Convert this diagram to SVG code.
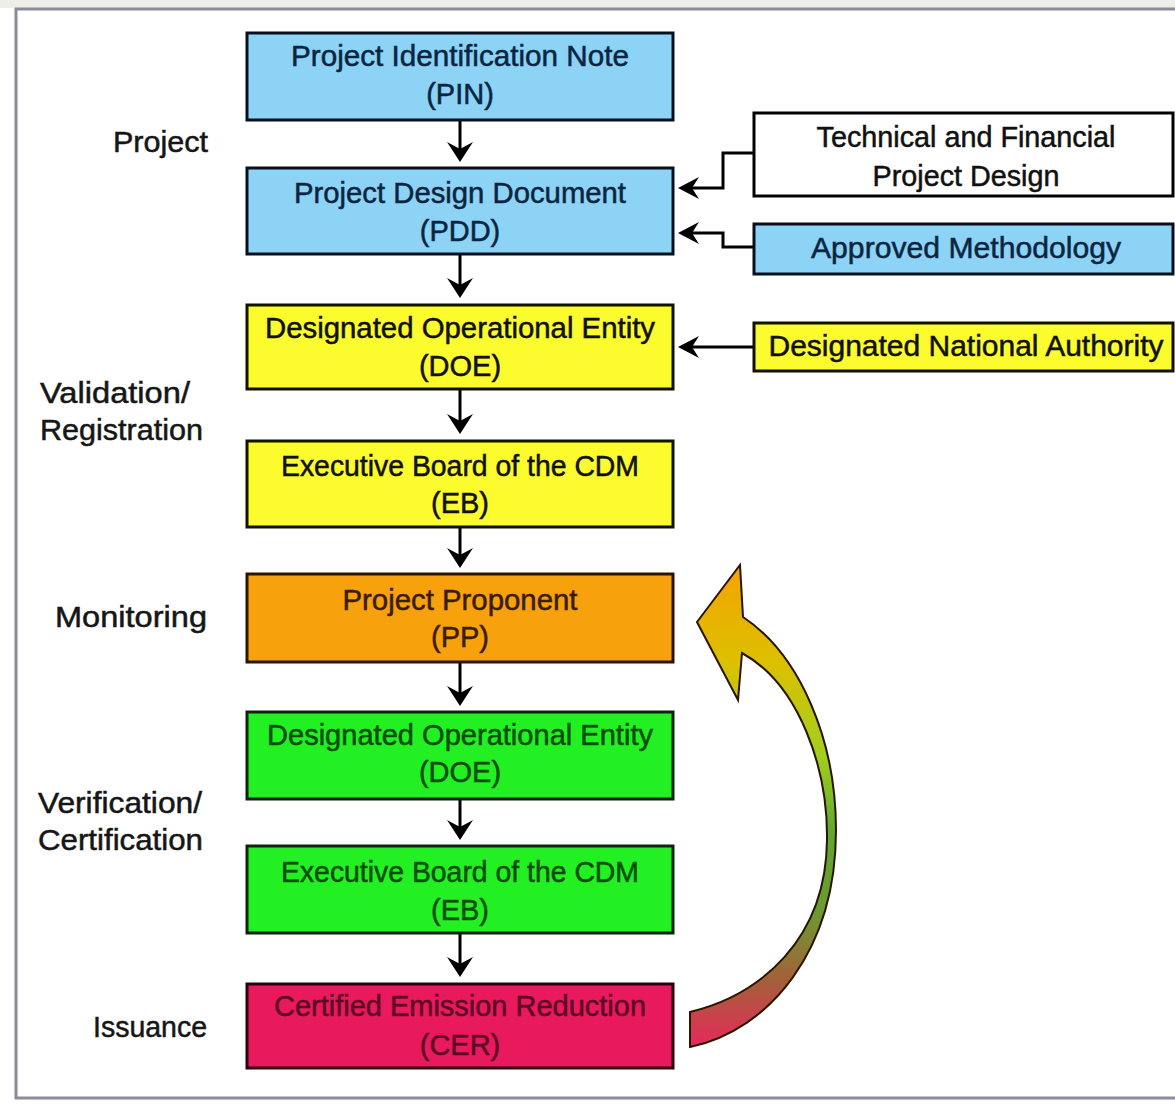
<svg xmlns="http://www.w3.org/2000/svg" width="1175" height="1119" viewBox="0 0 1175 1119">
  <style>
    .frame { fill: #ffffff; stroke: #8c8c98; stroke-width: 3; }
    .box { stroke-width: 3; }
    .blue { fill: #8cd3f6; stroke: #0a0f1e; }
    .white { fill: #ffffff; stroke: #000000; }
    .yellow { fill: #fbfb2d; stroke: #111100; }
    .orange { fill: #f7a10d; stroke: #2a1400; }
    .green { fill: #22f022; stroke: #0a250a; }
    .red { fill: #e8195c; stroke: #2a0010; }
    text { font-family: "Liberation Sans", Arial, sans-serif; font-size: 29px; text-anchor: middle; stroke-width: 0.5; }
    .t-blue { fill: #0b2540; stroke: #0b2540; }
    .t-black { fill: #111111; stroke: #111111; }
    .t-orange { fill: #3b1c00; stroke: #3b1c00; }
    .t-green { fill: #0b4d0b; stroke: #0b4d0b; }
    .t-red { fill: #5c0a26; stroke: #5c0a26; }
    .stage { font-size: 29px; text-anchor: start; fill: #161616; stroke: #161616; }
    .link { fill: none; stroke: #000000; stroke-width: 3; }
    .head { fill: #000000; }
  </style>
  <defs>
    <linearGradient id="cycleFill" gradientUnits="userSpaceOnUse" x1="0" y1="565" x2="0" y2="1048">
      <stop offset="0" stop-color="#f5a300"/>
      <stop offset="0.2" stop-color="#dcc000"/>
      <stop offset="0.4" stop-color="#a0cf20"/>
      <stop offset="0.55" stop-color="#5fa82e"/>
      <stop offset="0.72" stop-color="#6c9a30"/>
      <stop offset="0.86" stop-color="#a4603a"/>
      <stop offset="1" stop-color="#e8285a"/>
    </linearGradient>
  </defs>

  <!-- page background and frame -->
  <rect x="0" y="0" width="1175" height="1119" fill="#ffffff"/>
  <rect x="0" y="0" width="1175" height="8" fill="#efede7"/>
  <rect class="frame" x="16" y="9" width="1180" height="1089"/>

  <!-- stage labels -->
  <g id="stage-labels">
    <text class="stage" x="113" y="152" textLength="95" lengthAdjust="spacingAndGlyphs">Project</text>
    <text class="stage" x="40" y="403" textLength="150" lengthAdjust="spacingAndGlyphs">Validation/</text>
    <text class="stage" x="40" y="440" textLength="163" lengthAdjust="spacingAndGlyphs">Registration</text>
    <text class="stage" x="55" y="627" textLength="152" lengthAdjust="spacingAndGlyphs">Monitoring</text>
    <text class="stage" x="38" y="813" textLength="164" lengthAdjust="spacingAndGlyphs">Verification/</text>
    <text class="stage" x="38" y="850" textLength="165" lengthAdjust="spacingAndGlyphs">Certification</text>
    <text class="stage" x="93" y="1037" textLength="114" lengthAdjust="spacingAndGlyphs">Issuance</text>
  </g>

  <!-- connectors -->
  <g id="connectors">
    <path class="link" d="M460 120 V152"/>
    <path class="link" d="M460 254 V288"/>
    <path class="link" d="M460 389 V424"/>
    <path class="link" d="M460 527 V558"/>
    <path class="link" d="M460 662 V696"/>
    <path class="link" d="M460 799 V830"/>
    <path class="link" d="M460 933 V967"/>
    <polygon class="head" points="460,162 447,142 460,149 473,142"/>
    <polygon class="head" points="460,298 447,278 460,285 473,278"/>
    <polygon class="head" points="460,434 447,414 460,421 473,414"/>
    <polygon class="head" points="460,568 447,548 460,555 473,548"/>
    <polygon class="head" points="460,706 447,686 460,693 473,686"/>
    <polygon class="head" points="460,840 447,820 460,827 473,820"/>
    <polygon class="head" points="460,977 447,957 460,964 473,957"/>

    <path class="link" d="M753 153 H723 V188 H690"/>
    <path class="link" d="M753 247 H723 V233 H690"/>
    <path class="link" d="M753 347 H690"/>
    <polygon class="head" points="678,188 699,177 692,188 699,199"/>
    <polygon class="head" points="678,233 699,222 692,233 699,244"/>
    <polygon class="head" points="678,347 699,336 692,347 699,358"/>

    <!-- issuance feeds back into monitoring -->
    <path id="cycle-arrow" fill="url(#cycleFill)" stroke="#2a1500" stroke-width="2" stroke-linejoin="miter"
          d="M690 1012 C760 995 826 940 827 840 C828 770 800 685 742 653 L738 700 L697 622 L740 565 L743 617 C800 655 836 740 836 830 C836 950 770 1030 690 1047 Z"/>
  </g>

  <!-- main chain -->
  <g id="pin">
    <rect class="box blue" x="247" y="33" width="426" height="87"/>
    <text class="t-blue" x="460" y="66" textLength="338" lengthAdjust="spacingAndGlyphs">Project Identification Note</text>
    <text class="t-blue" x="460" y="104">(PIN)</text>
  </g>
  <g id="pdd">
    <rect class="box blue" x="247" y="168" width="426" height="86"/>
    <text class="t-blue" x="460" y="203" textLength="332" lengthAdjust="spacingAndGlyphs">Project Design Document</text>
    <text class="t-blue" x="460" y="241">(PDD)</text>
  </g>
  <g id="doe-validation">
    <rect class="box yellow" x="247" y="305" width="426" height="84"/>
    <text class="t-black" x="460" y="338" textLength="390" lengthAdjust="spacingAndGlyphs">Designated Operational Entity</text>
    <text class="t-black" x="460" y="376">(DOE)</text>
  </g>
  <g id="eb-registration">
    <rect class="box yellow" x="247" y="441" width="426" height="86"/>
    <text class="t-black" x="460" y="476" textLength="358" lengthAdjust="spacingAndGlyphs">Executive Board of the CDM</text>
    <text class="t-black" x="460" y="513">(EB)</text>
  </g>
  <g id="pp">
    <rect class="box orange" x="247" y="574" width="426" height="88"/>
    <text class="t-orange" x="460" y="610" textLength="235" lengthAdjust="spacingAndGlyphs">Project Proponent</text>
    <text class="t-orange" x="460" y="647">(PP)</text>
  </g>
  <g id="doe-verification">
    <rect class="box green" x="247" y="712" width="426" height="87"/>
    <text class="t-green" x="460" y="745" textLength="386" lengthAdjust="spacingAndGlyphs">Designated Operational Entity</text>
    <text class="t-green" x="460" y="782">(DOE)</text>
  </g>
  <g id="eb-certification">
    <rect class="box green" x="247" y="846" width="426" height="87"/>
    <text class="t-green" x="460" y="882" textLength="358" lengthAdjust="spacingAndGlyphs">Executive Board of the CDM</text>
    <text class="t-green" x="460" y="920">(EB)</text>
  </g>
  <g id="cer">
    <rect class="box red" x="247" y="984" width="426" height="84"/>
    <text class="t-red" x="460" y="1016" textLength="372" lengthAdjust="spacingAndGlyphs">Certified Emission Reduction</text>
    <text class="t-red" x="460" y="1055">(CER)</text>
  </g>

  <!-- inputs -->
  <g id="tech-fin-design">
    <rect class="box white" x="754" y="113" width="419" height="83"/>
    <text class="t-black" x="966" y="147" textLength="299" lengthAdjust="spacingAndGlyphs">Technical and Financial</text>
    <text class="t-black" x="966" y="186" textLength="187" lengthAdjust="spacingAndGlyphs">Project Design</text>
  </g>
  <g id="methodology">
    <rect class="box blue" x="754" y="224" width="419" height="50"/>
    <text class="t-blue" x="966" y="258" textLength="310" lengthAdjust="spacingAndGlyphs">Approved Methodology</text>
  </g>
  <g id="dna">
    <rect class="box yellow" x="754" y="323" width="419" height="48"/>
    <text class="t-black" x="966" y="356" textLength="395" lengthAdjust="spacingAndGlyphs">Designated National Authority</text>
  </g>
</svg>
